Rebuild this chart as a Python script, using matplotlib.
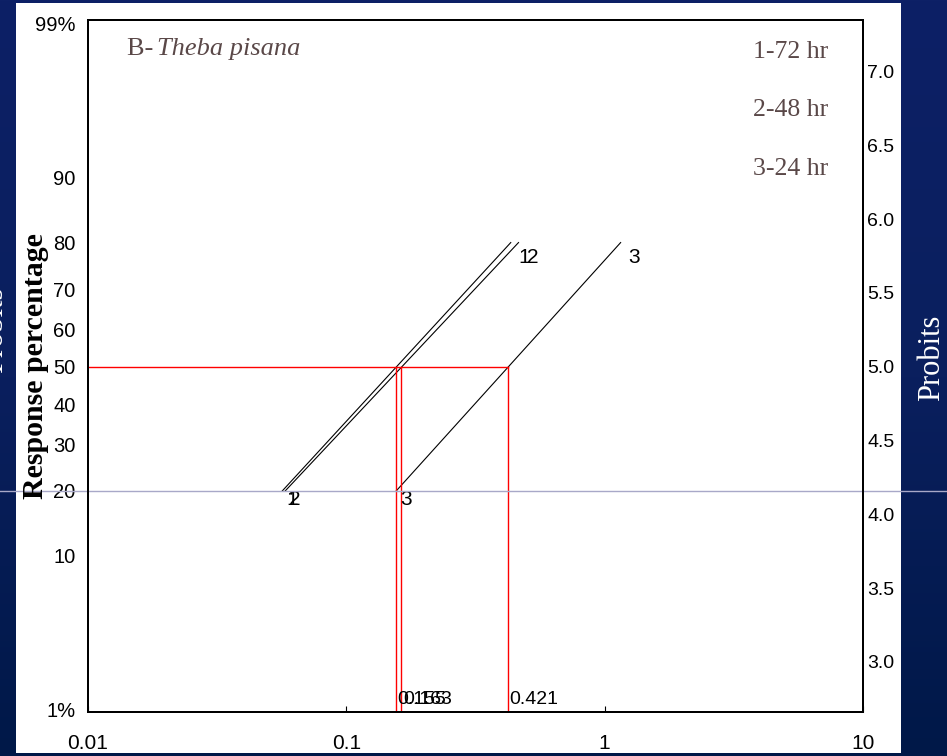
import numpy as np
import matplotlib
matplotlib.use('Agg')
import matplotlib.pyplot as plt
from matplotlib.colors import LinearSegmentedColormap
from matplotlib.patches import Rectangle
from matplotlib.ticker import NullLocator
from matplotlib.transforms import blended_transform_factory
from statistics import NormalDist

# probit lines, drawn between the 20 % and 80 % response doses
series = ['1', '2', '3']
dose_20 = [0.0565, 0.058, 0.156]
dose_80 = [0.433, 0.464, 1.153]
line_pct = [20, 80]

# LC50 readings (red guides)
lc50 = [0.155, 0.163, 0.421]
lc50_text = ['0.155', '0.163', '0.421']

legend_lines = ['1-72 hr', '2-48 hr', '3-24 hr']

pct_ticks = [1, 10, 20, 30, 40, 50, 60, 70, 80, 90, 99]
pct_labels = ['1%', '10', '20', '30', '40', '50', '60', '70', '80', '90', '99%']
probit_ticks = [3.0, 3.5, 4.0, 4.5, 5.0, 5.5, 6.0, 6.5, 7.0]
x_ticks = [0.01, 0.1, 1, 10]
x_labels = ['0.01', '0.1', '1', '10']

nd = NormalDist()


def probit(p):
    return 5 + nd.inv_cdf(p / 100.0)


W, H = 947, 756
fig = plt.figure(figsize=(W / 100, H / 100), dpi=100)

# navy gradient background with the white sheet on it
bg = fig.add_axes([0, 0, 1, 1], zorder=-5)
cmap = LinearSegmentedColormap.from_list('navy', ['#0d2066', '#0a1f5e', '#001848'])
bg.imshow(np.linspace(0, 1, 256).reshape(-1, 1), cmap=cmap, aspect='auto',
          extent=[0, 1, 0, 1], origin='upper')
bg.add_patch(Rectangle((16 / W, 3 / H), (901 - 16) / W, (753 - 3) / H,
                       facecolor='white', edgecolor='none'))
bg.set_xlim(0, 1)
bg.set_ylim(0, 1)
bg.axis('off')

ax = fig.add_axes([88 / W, 44 / H, 775 / W, 692 / H])
ax.set_facecolor('white')
ax.set_xscale('log')
ax.set_xlim(0.01, 10)
ax.set_ylim(2.66, 7.35)

sans = 'Liberation Sans'
serif = 'Liberation Serif'

for name, lo, hi in zip(series, dose_20, dose_80):
    yy = [probit(p) for p in line_pct]
    ax.plot([lo, hi], yy, color='black', lw=0.8)
    ax.annotate(name, (hi, yy[1]), xytext=(8, -15), textcoords='offset pixels',
                ha='left', va='center', fontsize=15, family=sans)
    ax.annotate(name, (lo, yy[0]), xytext=(4, -9), textcoords='offset pixels',
                ha='left', va='center', fontsize=15, family=sans)

y50 = probit(50)
ax.plot([0.01, max(lc50)], [y50, y50], color='red', lw=1)
for v, t in zip(lc50, lc50_text):
    ax.plot([v, v], [2.66, y50], color='red', lw=1)
    ax.annotate(t, (v, 2.66), xytext=(2, 4), textcoords='offset pixels',
                ha='left', va='bottom', fontsize=14, family=sans)

ax.set_xticks(x_ticks)
ax.set_xticklabels(x_labels, fontsize=15, family=sans)
ax.xaxis.set_minor_locator(NullLocator())
ax.tick_params(axis='x', direction='in', length=4, width=0.8, pad=16, top=False)

ax.set_yticks([probit(p) for p in pct_ticks])
ax.set_yticklabels(pct_labels, fontsize=14.5, family=sans)
ax.tick_params(axis='y', length=0, pad=9)

ax2 = ax.twinx()
ax2.set_ylim(ax.get_ylim())
ax2.set_yticks(probit_ticks)
ax2.set_yticklabels(['%.1f' % v for v in probit_ticks], fontsize=14, family=sans)
ax2.tick_params(axis='y', length=0, pad=3)

for a in (ax, ax2):
    for s in a.spines.values():
        s.set_linewidth(1.4)
        s.set_color('black')

# texts inside the plot
ax.text(127 / W, 1 - 55 / H, 'B- ', transform=fig.transFigure, fontsize=19,
        family=serif, color='#5a4848', va='baseline', ha='left')
ax.text(157 / W, 1 - 55 / H, 'Theba pisana', transform=fig.transFigure, fontsize=19,
        family=serif, style='italic', color='#5a4848', va='baseline', ha='left')
for i, t in enumerate(legend_lines):
    ax.text(828 / W, 1 - (58 + 58.5 * i) / H, t, transform=fig.transFigure,
            fontsize=18.5, family=serif, color='#5a4848', va='baseline', ha='right')

fig.text(36 / W, 1 - 366 / H, 'Response percentage', rotation=90, ha='center',
         va='center', fontsize=21.5, fontweight='bold', family=serif, color='black')
fig.text(932 / W, 1 - 358 / H, 'Probits', rotation=90, ha='center', va='center',
         fontsize=22, family=serif, color='white')
fig.text(-5 / W, 1 - 330 / H, 'Probits', rotation=90, ha='center', va='center',
         fontsize=22, family=serif, color='white')

# thin guide at 20 % running across the whole slide
tr = blended_transform_factory(fig.transFigure, ax.transData)
ax.plot([0, 1], [probit(20), probit(20)], transform=tr, color='#a8a8c8', lw=1,
        clip_on=False, zorder=5)

fig.savefig('out.png', dpi=100)
